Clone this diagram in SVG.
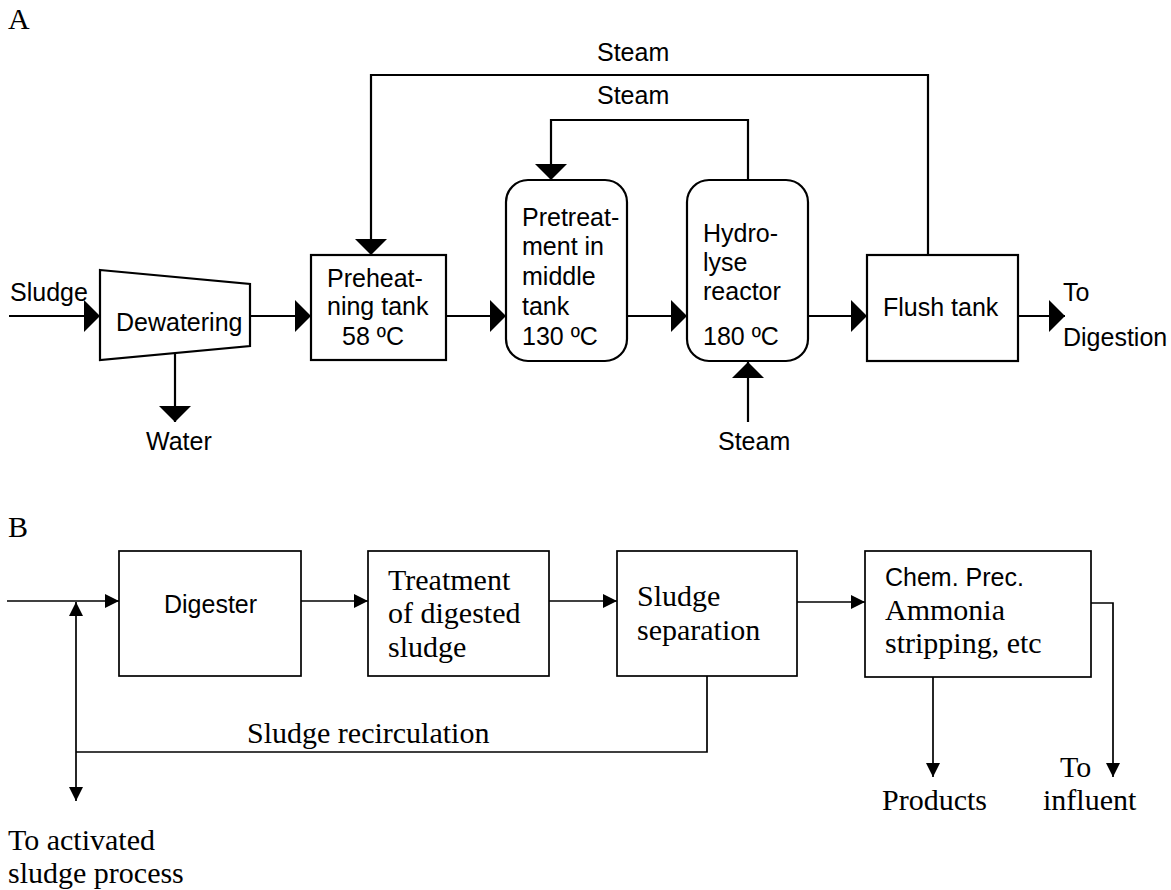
<svg xmlns="http://www.w3.org/2000/svg" width="1171" height="890" viewBox="0 0 1171 890">
<style>
.a{font-family:"Liberation Sans",Arial,sans-serif;font-size:25px;fill:#000}
.t{font-family:"Liberation Serif","Times New Roman",serif;font-size:30px;fill:#000}
.bx{fill:#fff;stroke:#000;stroke-width:2.2}
.bb{fill:#fff;stroke:#000;stroke-width:1.7}
.ln{fill:none;stroke:#000;stroke-width:2.2}
.lb{fill:none;stroke:#000;stroke-width:1.7}
</style>
<defs>
<marker id="big" markerUnits="userSpaceOnUse" viewBox="0 0 16 32" refX="16" refY="16" markerWidth="16" markerHeight="32" orient="auto"><path d="M0,0 L16,16 L0,32 Z" fill="#000"/></marker>
<marker id="sm" markerUnits="userSpaceOnUse" viewBox="0 0 14 14" refX="14" refY="7" markerWidth="14" markerHeight="14" orient="auto"><path d="M0,0 L14,7 L0,14 Z" fill="#000"/></marker>
</defs>
<text class="t" x="8" y="29">A</text>
<text class="t" x="8" y="537">B</text>
<g id="connectors">
<path class="ln" d="M9,316 H100" marker-end="url(#big)"/>
<path class="ln" d="M250,316 H311" marker-end="url(#big)"/>
<path class="ln" d="M175,353 V422" marker-end="url(#big)"/>
<path class="ln" d="M446,316 H506" marker-end="url(#big)"/>
<path class="ln" d="M627,316 H687" marker-end="url(#big)"/>
<path class="ln" d="M808,316 H867" marker-end="url(#big)"/>
<path class="ln" d="M1018,316 H1065" marker-end="url(#big)"/>
<path class="ln" d="M748,180 V120 H551 V180" marker-end="url(#big)"/>
<path class="ln" d="M928,255 V75 H371 V255" marker-end="url(#big)"/>
<path class="ln" d="M748,422 V362" marker-end="url(#big)"/>
<path class="lb" d="M7,601 H119" marker-end="url(#sm)"/>
<path class="lb" d="M301,601 H368" marker-end="url(#sm)"/>
<path class="lb" d="M549,601 H617" marker-end="url(#sm)"/>
<path class="lb" d="M797,602 H865" marker-end="url(#sm)"/>
<path class="lb" d="M707,676 V752 H76"/>
<path class="lb" d="M76,752 V602" marker-end="url(#sm)"/>
<path class="lb" d="M76,752 V801" marker-end="url(#sm)"/>
<path class="lb" d="M933,677 V777" marker-end="url(#sm)"/>
<path class="lb" d="M1091,603 H1113 V777" marker-end="url(#sm)"/>
</g>
<g id="labels">
<text class="a" x="597" y="61">Steam</text>
<text class="a" x="597" y="104">Steam</text>
<text class="a" x="10" y="301">Sludge</text>
<text class="a" x="146" y="450">Water</text>
<text class="a" x="718" y="450">Steam</text>
<text class="a" x="1063" y="301">To</text>
<text class="a" x="1063" y="346">Digestion</text>
<text class="t" x="247" y="743">Sludge recirculation</text>
<text class="t" x="8" y="850">To activated</text>
<text class="t" x="8" y="883">sludge process</text>
<text class="t" x="882" y="810">Products</text>
<text class="t" x="1060" y="777">To</text>
<text class="t" x="1043" y="810">influent</text>
</g>
<g id="dewatering">
<path class="bx" d="M100,270 L250,284 L250,346 L100,360 Z"/>
<text class="a" x="116" y="331">Dewatering</text>
</g>
<g id="preheating">
<rect class="bx" x="311" y="255" width="135" height="105"/>
<text class="a" x="327" y="287">Preheat-</text>
<text class="a" x="327" y="315">ning tank</text>
<text class="a" x="342" y="345">58 ºC</text>
</g>
<g id="pretreatment">
<rect class="bx" x="506" y="180" width="121" height="181" rx="22" ry="22"/>
<text class="a" x="522" y="226">Pretreat-</text>
<text class="a" x="522" y="255">ment in</text>
<text class="a" x="522" y="285">middle</text>
<text class="a" x="522" y="315">tank</text>
<text class="a" x="522" y="345">130 ºC</text>
</g>
<g id="hydrolyse">
<rect class="bx" x="687" y="180" width="121" height="181" rx="22" ry="22"/>
<text class="a" x="703" y="242">Hydro-</text>
<text class="a" x="703" y="271">lyse</text>
<text class="a" x="703" y="300">reactor</text>
<text class="a" x="703" y="345">180 ºC</text>
</g>
<g id="flush">
<rect class="bx" x="867" y="255" width="151" height="106"/>
<text class="a" x="883" y="316">Flush tank</text>
</g>
<g id="digester">
<rect class="bb" x="119" y="551" width="182" height="125"/>
<text class="a" x="164" y="613">Digester</text>
</g>
<g id="treatment">
<rect class="bb" x="368" y="551" width="181" height="125"/>
<text class="t" x="388" y="590">Treatment</text>
<text class="t" x="388" y="623">of digested</text>
<text class="t" x="388" y="657">sludge</text>
</g>
<g id="separation">
<rect class="bb" x="617" y="551" width="180" height="125"/>
<text class="t" x="637" y="606">Sludge</text>
<text class="t" x="637" y="640">separation</text>
</g>
<g id="chem">
<rect class="bb" x="865" y="551" width="226" height="126"/>
<text class="a" x="885" y="586">Chem. Prec.</text>
<text class="t" x="885" y="620">Ammonia</text>
<text class="t" x="885" y="653">stripping, etc</text>
</g>
</svg>
